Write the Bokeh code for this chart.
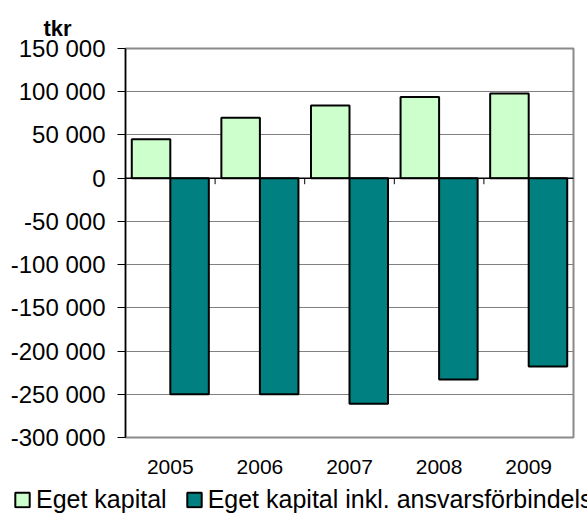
from bokeh.plotting import figure
from bokeh.layouts import column
from bokeh.models import (ColumnDataSource, FactorRange, Range1d, FixedTicker, Legend,
                          LegendItem, Span)
from bokeh.transform import dodge
from bokeh.embed import file_html
from bokeh.resources import INLINE

years = ["2005", "2006", "2007", "2008", "2009"]
eget_kapital = [45000, 70000, 84000, 94000, 98000]
eget_kapital_inkl = [-250000, -250000, -261000, -233000, -218000]
series_names = ["Eget kapital", "Eget kapital inkl. ansvarsförbindelser"]
y_ticks = [-300000, -250000, -200000, -150000, -100000, -50000, 0, 50000, 100000, 150000]
y_tick_labels = ["-300 000", "-250 000", "-200 000", "-150 000", "-100 000", "-50 000",
                 "0", "50 000", "100 000", "150 000"]
unit_label = "tkr"

FONT = "Liberation Sans"
GREEN = "#CCFFCC"
TEAL = "#008080"

src = ColumnDataSource(data=dict(year=years, a=eget_kapital, b=eget_kapital_inkl))

p = figure(frame_width=448, frame_height=389, output_backend="svg", toolbar_location=None,
           x_range=FactorRange(*years, range_padding=0),
           y_range=Range1d(y_ticks[0], y_ticks[-1]),
           min_border_left=125, min_border_right=14, min_border_top=48, min_border_bottom=47)
p.frame_align = False
p.background_fill_color = "white"
p.border_fill_color = "white"
p.outline_line_color = "#8a8a8a"
p.outline_line_width = 2

p.vbar(x=dodge("year", -0.215, range=p.x_range), top="a", bottom=0, width=0.43,
       source=src, fill_color=GREEN, line_color="black", line_width=2)
p.vbar(x=dodge("year", 0.215, range=p.x_range), top=0, bottom="b", width=0.43,
       source=src, fill_color=TEAL, line_color="black", line_width=2)

# zero line (category axis crossing)
p.add_layout(Span(location=0, dimension="width", line_color="black", line_width=1.5))
bsrc = ColumnDataSource(data=dict(year=years[:-1]))
p.segment(x0=dodge("year", 0.5, range=p.x_range), x1=dodge("year", 0.5, range=p.x_range),
          y0=0, y1=-7000, source=bsrc, line_color="black", line_width=1)

# axes
p.yaxis.ticker = FixedTicker(ticks=y_ticks)
p.yaxis.major_label_overrides = {t: l for t, l in zip(y_ticks, y_tick_labels)}
p.yaxis.minor_tick_line_color = None
p.yaxis.major_tick_in = 0
p.yaxis.major_tick_out = 8
p.yaxis.major_tick_line_color = "black"
p.yaxis.axis_line_color = "black"
p.yaxis.axis_line_width = 1.5
p.yaxis.major_label_standoff = 12
p.yaxis.major_label_text_font = FONT
p.yaxis.major_label_text_font_size = "24px"
p.yaxis.major_label_text_color = "black"

p.xaxis.axis_line_color = None
p.xaxis.major_tick_line_color = None
p.xaxis.minor_tick_line_color = None
p.xaxis.major_tick_out = 0
p.xaxis.major_label_standoff = 22
p.xaxis.major_label_text_font = FONT
p.xaxis.major_label_text_font_size = "21px"
p.xaxis.major_label_text_color = "black"

p.xgrid.grid_line_color = None
p.ygrid.grid_line_color = "#808080"
p.ygrid.grid_line_width = 1

# unit label as title
p.title.text = unit_label
p.title.align = "left"
p.title.offset = -82
p.title.standoff = 16
p.title.text_font = FONT
p.title.text_font_size = "22px"
p.title.text_font_style = "bold"
p.title.text_color = "black"

# legend strip: separate figure whose frame spans the whole width (its bars lie out of view)
lg = figure(width=587, height=30, output_backend="svg", toolbar_location=None,
            min_border=0, x_range=FactorRange(*years), y_range=Range1d(1e7, 2e7))
lg.frame_align = False
lg.axis.visible = False
lg.grid.grid_line_color = None
lg.outline_line_color = None
lg.background_fill_color = "white"
lg.border_fill_color = "white"
l1 = lg.vbar(x="year", top="a", bottom=0, width=0.4, source=src, fill_color=GREEN,
             line_color="black", line_width=2)
l2 = lg.vbar(x="year", top=0, bottom="b", width=0.4, source=src, fill_color=TEAL,
             line_color="black", line_width=2)
legend = Legend(items=[LegendItem(label=series_names[0], renderers=[l1]),
                       LegendItem(label=series_names[1], renderers=[l2])],
                location="center_left", orientation="horizontal",
                glyph_width=18, glyph_height=18, label_standoff=5, spacing=18,
                padding=0, margin=13, border_line_color=None, background_fill_alpha=0,
                label_text_font=FONT, label_text_font_size="25px", label_text_color="black")
lg.add_layout(legend, "center")

layout = column(p, lg, spacing=0)
open("out.html", "w").write(file_html(layout, INLINE))
